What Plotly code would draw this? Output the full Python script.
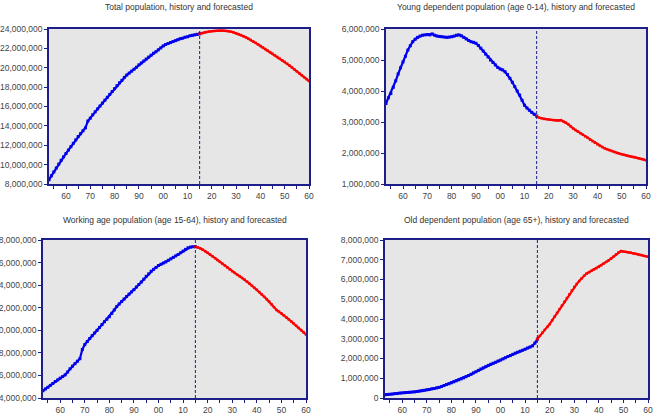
import plotly.graph_objects as go

# ---------------- data (millions of persons) ----------------
hist_years = list(range(1953, 2016))
fc_years = list(range(2015, 2061))

total_hist = [8.45, 8.85, 9.25, 9.65, 10.05, 10.45, 10.8, 11.15, 11.5, 11.85,
              12.2, 12.55, 12.9, 13.2, 13.5, 13.8, 14.5, 14.8, 15.15, 15.45,
              15.75, 16.05, 16.35, 16.65, 16.95, 17.25, 17.55, 17.85, 18.15, 18.45,
              18.7, 19.0, 19.25, 19.45, 19.65, 19.85, 20.05, 20.3, 20.5, 20.7,
              20.9, 21.1, 21.3, 21.5, 21.65, 21.85, 22.05, 22.25, 22.4, 22.5,
              22.6, 22.7, 22.8, 22.9, 23.0, 23.05, 23.15, 23.2, 23.3, 23.35,
              23.4, 23.45, 23.5]
total_fc = [23.5, 23.58, 23.65, 23.7, 23.74, 23.77, 23.8, 23.82, 23.83, 23.83,
            23.82, 23.8, 23.77, 23.72, 23.64, 23.56, 23.47, 23.37, 23.26, 23.14,
            23.01, 22.87, 22.72, 22.57, 22.41, 22.25, 22.09, 21.93, 21.77, 21.61,
            21.45, 21.28, 21.11, 20.94, 20.77, 20.6, 20.41, 20.22, 20.03, 19.83,
            19.63, 19.43, 19.23, 19.03, 18.83, 18.63]

young_hist = [3.6, 3.78, 3.92, 4.12, 4.33, 4.55, 4.75, 4.94, 5.12, 5.32,
              5.46, 5.59, 5.67, 5.73, 5.77, 5.8, 5.81, 5.82, 5.81, 5.84,
              5.8, 5.77, 5.76, 5.75, 5.74, 5.73, 5.74, 5.75, 5.77, 5.8,
              5.81, 5.78, 5.73, 5.68, 5.63, 5.59, 5.57, 5.54, 5.47, 5.38,
              5.29, 5.19, 5.1, 5.0, 4.92, 4.84, 4.76, 4.71, 4.68, 4.62,
              4.53, 4.41, 4.28, 4.14, 4.0, 3.87, 3.7, 3.54, 3.45, 3.38,
              3.31, 3.25, 3.19]
young_fc = [3.19, 3.14, 3.12, 3.1, 3.09, 3.08, 3.07, 3.06, 3.05, 3.05,
            3.06, 3.02, 2.98, 2.93, 2.86, 2.79, 2.74, 2.69, 2.64, 2.59,
            2.54, 2.49, 2.43, 2.38, 2.33, 2.28, 2.23, 2.19, 2.15, 2.12,
            2.09, 2.06, 2.03, 2.0, 1.98, 1.96, 1.94, 1.92, 1.9, 1.88,
            1.87, 1.85, 1.83, 1.81, 1.79, 1.77]

work_hist = [4.65, 4.8, 4.95, 5.12, 5.29, 5.46, 5.61, 5.76, 5.9, 6.05,
             6.3, 6.59, 6.82, 7.04, 7.26, 7.48, 8.3, 8.74, 9.0, 9.27,
             9.52, 9.76, 10.0, 10.25, 10.5, 10.76, 10.98, 11.2, 11.5, 11.8,
             12.1, 12.33, 12.55, 12.77, 12.99, 13.2, 13.4, 13.6, 13.83, 14.06,
             14.28, 14.53, 14.78, 15.0, 15.23, 15.4, 15.57, 15.74, 15.85, 15.96,
             16.06, 16.2, 16.33, 16.46, 16.59, 16.72, 16.87, 17.02, 17.17, 17.31,
             17.37, 17.4, 17.4]
work_fc = [17.4, 17.35, 17.26, 17.14, 17.01, 16.87, 16.71, 16.55, 16.39, 16.22,
           16.06, 15.89, 15.73, 15.56, 15.4, 15.23, 15.08, 14.93, 14.79, 14.64,
           14.49, 14.31, 14.13, 13.95, 13.77, 13.59, 13.39, 13.18, 12.97, 12.76,
           12.55, 12.3, 12.05, 11.8, 11.65, 11.5, 11.32, 11.14, 10.96, 10.78,
           10.6, 10.41, 10.21, 10.02, 9.82, 9.63]

old_hist = [0.17, 0.18, 0.19, 0.2, 0.22, 0.23, 0.25, 0.26, 0.27, 0.28,
            0.29, 0.3, 0.31, 0.33, 0.35, 0.37, 0.39, 0.41, 0.43, 0.46,
            0.48, 0.51, 0.54, 0.58, 0.63, 0.68, 0.72, 0.77, 0.82, 0.87,
            0.92, 0.97, 1.02, 1.08, 1.14, 1.2, 1.27, 1.33, 1.4, 1.47,
            1.53, 1.59, 1.65, 1.71, 1.76, 1.81, 1.87, 1.92, 1.98, 2.04,
            2.1, 2.15, 2.21, 2.27, 2.32, 2.37, 2.42, 2.47, 2.53, 2.58,
            2.64, 2.78, 2.98]
old_fc = [2.98, 3.15, 3.3, 3.45, 3.6, 3.74, 3.93, 4.12, 4.31, 4.5,
          4.68, 4.87, 5.06, 5.25, 5.44, 5.62, 5.77, 5.92, 6.06, 6.19,
          6.3, 6.37, 6.44, 6.51, 6.57, 6.64, 6.72, 6.81, 6.89, 6.97,
          7.06, 7.16, 7.27, 7.37, 7.44, 7.42, 7.4, 7.38, 7.36, 7.33,
          7.3, 7.27, 7.24, 7.21, 7.18, 7.15]

titles = ["Total population, history and forecasted",
          "Young dependent population (age 0-14), history and forecasted",
          "Working age population (age 15-64), history and forecasted",
          "Old dependent population (age 65+), history and forecasted"]

x_tickvals = [1960, 1970, 1980, 1990, 2000, 2010, 2020, 2030, 2040, 2050, 2060]
x_ticktext = ["60", "70", "80", "90", "00", "10", "20", "30", "40", "50", "60"]
forecast_start = 2015

y_ranges = [[8e6, 24e6], [1e6, 6e6], [4e6, 18e6], [0, 8e6]]
y_dticks = [2e6, 1e6, 2e6, 1e6]

series = [(total_hist, total_fc), (young_hist, young_fc),
          (work_hist, work_fc), (old_hist, old_fc)]

SCALE = 1e6
W, H = 653, 414
# panel boxes in pixels: (left, right, top, bottom)
boxes = [(49, 309, 29, 184), (386, 646, 29, 184),
         (43, 306, 240, 398), (385, 648, 240, 398)]
title_y = [7, 7, 220, 220]

FRAME = "#1e1e8a"
TXT = "#444444"
FONT = "Liberation Sans, Arial, sans-serif"

fig = go.Figure()
layout = dict(width=W, height=H, margin=dict(l=0, r=0, t=0, b=0),
              paper_bgcolor="white", plot_bgcolor="#e6e6e6",
              showlegend=False, template="none",
              font=dict(family=FONT, size=8.5, color=TXT),
              annotations=[], shapes=[])

for i, ((h, f), box) in enumerate(zip(series, boxes)):
    n = "" if i == 0 else str(i + 1)
    xa, ya = "x" + n, "y" + n
    fig.add_trace(go.Scatter(x=hist_years, y=[v * SCALE for v in h],
                             xaxis=xa, yaxis=ya, mode="lines+markers",
                             line=dict(color="#0000ee", width=2.2),
                             marker=dict(color="#0000ee", size=3, symbol="square")))
    fig.add_trace(go.Scatter(x=fc_years, y=[v * SCALE for v in f],
                             xaxis=xa, yaxis=ya, mode="lines+markers",
                             line=dict(color="#ff0000", width=2.2),
                             marker=dict(color="#ff0000", size=2.5, symbol="square")))
    l, r, t, b = box
    layout["xaxis" + n] = dict(
        domain=[l / W, r / W], anchor=ya, range=[1953, 2060],
        tickvals=x_tickvals, ticktext=x_ticktext, ticks="outside", ticklen=3,
        tickcolor=FRAME, tickwidth=1,
        minor=dict(dtick=5, tick0=1955, ticks="outside", ticklen=3, tickcolor=FRAME),
        showgrid=False, zeroline=False, showline=True, mirror=True,
        linecolor=FRAME, linewidth=1.5, automargin=False,
        tickfont=dict(size=8.5, color=TXT, family=FONT))
    layout["yaxis" + n] = dict(
        domain=[1 - b / H, 1 - t / H], anchor=xa, range=y_ranges[i],
        dtick=y_dticks[i], tick0=0, tickformat=",d", ticks="outside", ticklen=3,
        tickcolor=FRAME, showgrid=False, zeroline=False, showline=True,
        mirror=True, linecolor=FRAME, linewidth=1.5, automargin=False,
        tickfont=dict(size=8.5, color=TXT, family=FONT))
    layout["shapes"].append(dict(type="line", xref=xa, yref=ya + " domain",
                                 x0=forecast_start, x1=forecast_start, y0=0, y1=1,
                                 line=dict(color=FRAME, width=1, dash="3px,2px")))
    layout["annotations"].append(dict(text=titles[i], xref="paper", yref="paper",
                                      x=(l + r) / 2 / W, y=1 - title_y[i] / H,
                                      xanchor="center", yanchor="middle",
                                      showarrow=False,
                                      font=dict(size=8.5, color="#333333", family=FONT)))

fig.update_layout(**layout)
fig.write_html("out.html")
